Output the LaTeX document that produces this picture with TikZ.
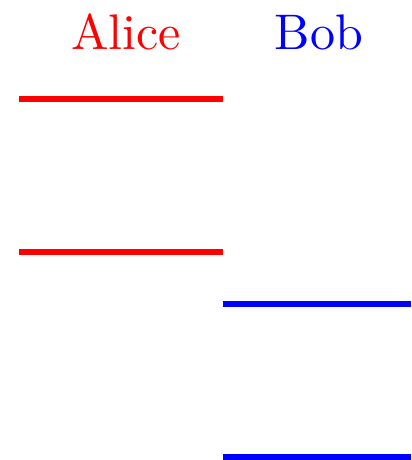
\documentclass[tikz,border=0pt]{standalone}
\begin{document}
\begin{tikzpicture}[x=0.2pt, y=-0.2pt, alicestyle/.style={red, very thick}, bobstyle/.style={blue, very thick}]
        \useasboundingbox (0,0) rectangle (411,460);
        \node[red, anchor=base] (alice) at (126,50) {Alice};
        \node[blue, anchor=base] (bob) at (319,50) {Bob};
        \draw[alicestyle] (19,99) -- (223,99);
        \draw[alicestyle] (19,252) -- (223,252);
        \draw[bobstyle] (223,304) -- (411,304);
        \draw[bobstyle] (223,457) -- (411,457);
    \end{tikzpicture}
\end{document}
